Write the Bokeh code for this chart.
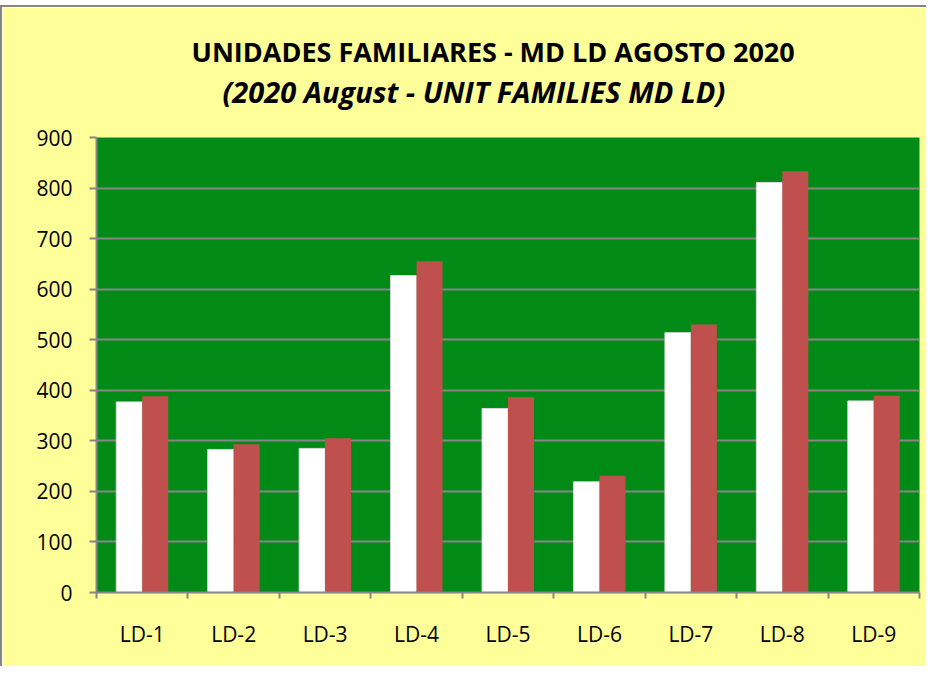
from bokeh.plotting import figure
from bokeh.models import Range1d, FixedTicker, Title, ColumnDataSource
from bokeh.transform import dodge
from bokeh.embed import file_html
from bokeh.resources import INLINE

# ---- data ----
categories = ["LD-1", "LD-2", "LD-3", "LD-4", "LD-5", "LD-6", "LD-7", "LD-8", "LD-9"]
series_white = [377, 283, 285, 627, 364, 219, 514, 811, 379]
series_red = [388, 293, 305, 655, 386, 231, 530, 833, 389]
y_ticks = [0, 100, 200, 300, 400, 500, 600, 700, 800, 900]
title_line1 = "UNIDADES FAMILIARES - MD LD AGOSTO 2020"
title_line2 = "(2020 August - UNIT FAMILIES MD LD)"

# ---- style ----
YELLOW = "#FFFF99"
GREEN = "#028A16"
RED = "#C0504D"
GRAY = "#868686"
FONT = "Open Sans"

n = len(categories)
centers = [i + 0.5 for i in range(n)]
source = ColumnDataSource(dict(x=centers, white=series_white, red=series_red))

p = figure(
    width=926, height=661,
    x_range=Range1d(0, n), y_range=Range1d(0, y_ticks[-1]),
    output_backend="svg", toolbar_location=None,
    background_fill_color=GREEN, border_fill_color=YELLOW,
    min_border_left=94, min_border_right=9, min_border_top=130, min_border_bottom=76,
    outline_line_color=None,
)
p.margin = (5, 0, 0, 0)
p.styles = {"border-left": f"2px solid {GRAY}", "border-top": f"2px solid {GRAY}"}

spacer = Title(text=" ", text_font_size="1px", standoff=24)
t2 = Title(text=title_line2, align="left", text_font=FONT, text_font_size="29px",
           text_font_style="bold italic", text_color="black", offset=126, standoff=0)
t1 = Title(text=title_line1, align="left", text_font=FONT, text_font_size="27px",
           text_font_style="bold", text_color="black", offset=95, standoff=0)
p.add_layout(spacer, "above")
p.add_layout(t2, "above")
p.add_layout(t1, "above")

bw = 0.284
p.vbar(x=dodge("x", -bw / 2), top="white", width=bw, bottom=0, source=source,
       fill_color="white", line_color="#D8D8D8", line_width=1)
p.vbar(x=dodge("x", bw / 2), top="red", width=bw, bottom=0, source=source,
       fill_color=RED, line_color=None)

# y axis
p.yaxis.ticker = FixedTicker(ticks=y_ticks)
p.yaxis.axis_line_color = GRAY
p.yaxis.axis_line_width = 2
p.yaxis.major_tick_line_color = GRAY
p.yaxis.major_tick_line_width = 2
p.yaxis.major_tick_in = 0
p.yaxis.major_tick_out = 7
p.yaxis.minor_tick_line_color = None
p.yaxis.major_label_text_font = FONT
p.yaxis.major_label_text_font_size = "21px"
p.yaxis.major_label_text_color = "black"
p.yaxis.major_label_standoff = 17

# x axis: labels at centers, ticks at boundaries
p.xaxis.ticker = FixedTicker(ticks=centers, minor_ticks=list(range(n + 1)))
p.xaxis.major_label_overrides = {c: lab for c, lab in zip(centers, categories)}
p.xaxis.axis_line_color = GRAY
p.xaxis.axis_line_width = 2
p.xaxis.major_tick_line_color = None
p.xaxis.major_tick_in = 0
p.xaxis.major_tick_out = 0
p.xaxis.minor_tick_line_color = GRAY
p.xaxis.minor_tick_line_width = 2
p.xaxis.minor_tick_in = 0
p.xaxis.minor_tick_out = 6
p.xaxis.major_label_text_font = FONT
p.xaxis.major_label_text_font_size = "21px"
p.xaxis.major_label_text_color = "black"
p.xaxis.major_label_standoff = 21

p.xgrid.grid_line_color = None
p.ygrid.grid_line_color = GRAY
p.ygrid.grid_line_width = 2

open("out.html", "w").write(file_html(p, INLINE))
